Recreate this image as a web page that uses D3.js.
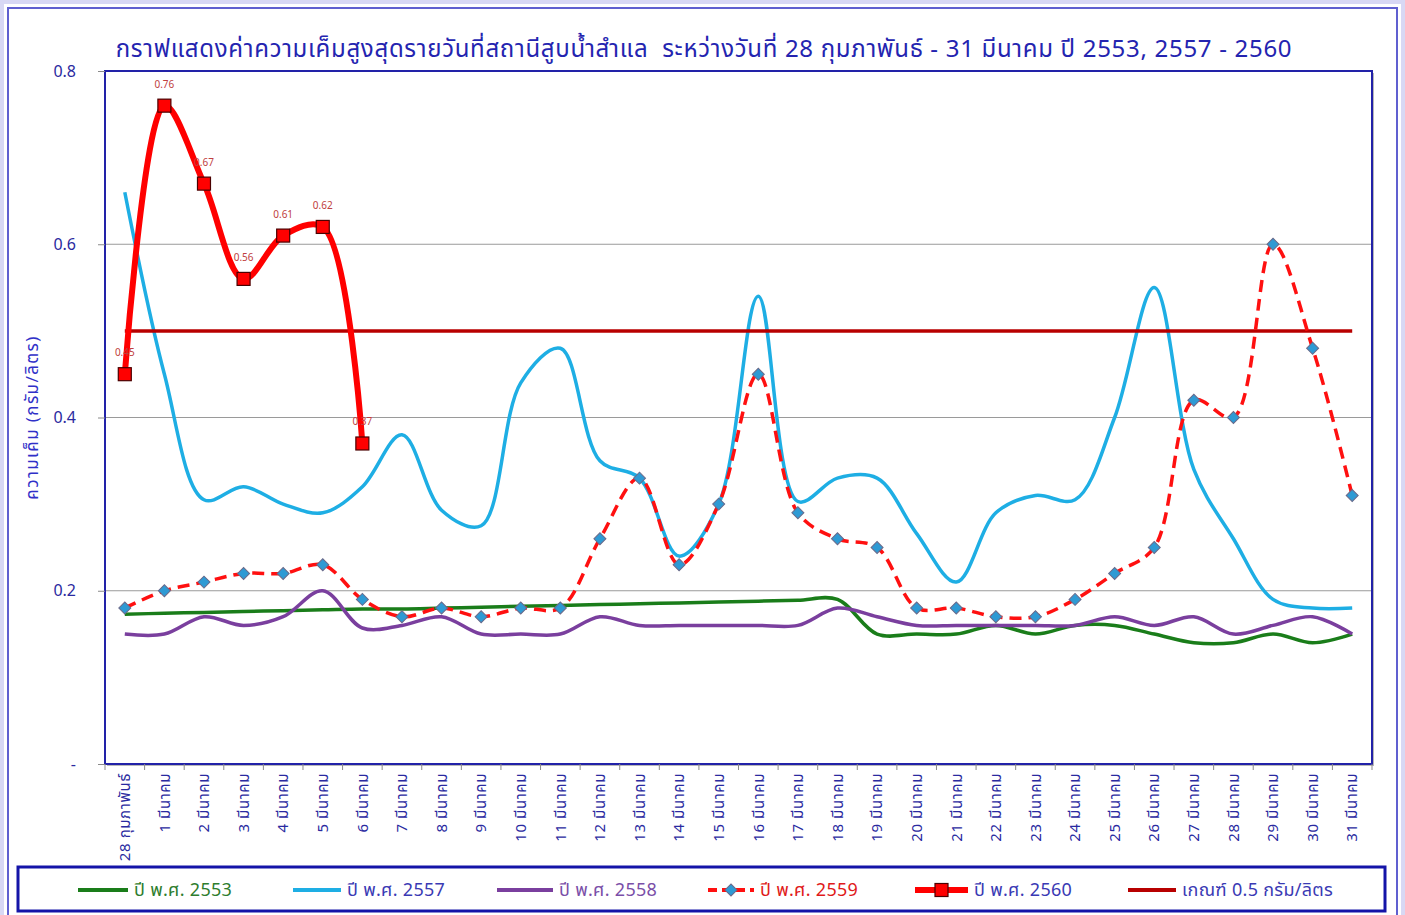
<!DOCTYPE html>
<html>
<head>
<meta charset="utf-8">
<script src="https://cdn.jsdelivr.net/npm/d3@7"></script>
<style>
  body { margin: 0; background: #fff; }
  svg text { font-family: Tahoma, "Noto Sans Thai", "Noto Sans", "DejaVu Sans", sans-serif; }
</style>
</head>
<body>
<svg id="chart" width="1405" height="915"></svg>
<script>
// Categories (x axis).
const days = [
  '28 กุมภาพันธ์', '1 มีนาคม', '2 มีนาคม', '3 มีนาคม', '4 มีนาคม', '5 มีนาคม', '6 มีนาคม', '7 มีนาคม',
  '8 มีนาคม', '9 มีนาคม', '10 มีนาคม', '11 มีนาคม', '12 มีนาคม', '13 มีนาคม', '14 มีนาคม', '15 มีนาคม',
  '16 มีนาคม', '17 มีนาคม', '18 มีนาคม', '19 มีนาคม', '20 มีนาคม', '21 มีนาคม', '22 มีนาคม', '23 มีนาคม',
  '24 มีนาคม', '25 มีนาคม', '26 มีนาคม', '27 มีนาคม', '28 มีนาคม', '29 มีนาคม', '30 มีนาคม', '31 มีนาคม'
];

// Series values (g/l).
const y2553 = [0.173, 0.174, 0.175, 0.176, 0.177, 0.178, 0.179, 0.179, 0.180, 0.181, 0.182, 0.183, 0.184, 0.185, 0.186, 0.187,
  0.188, 0.189, 0.190, 0.15, 0.15, 0.15, 0.16, 0.15, 0.16, 0.16, 0.15, 0.14, 0.14, 0.15, 0.14, 0.15];
const y2557 = [0.66, 0.45, 0.305, 0.32, 0.30, 0.29, 0.32, 0.38, 0.293, 0.275, 0.44, 0.48, 0.35, 0.33, 0.24, 0.30,
  0.54, 0.303, 0.33, 0.33, 0.266, 0.21, 0.29, 0.31, 0.305, 0.40, 0.55, 0.34, 0.26, 0.19, 0.18, 0.18];
const y2558 = [0.15, 0.15, 0.17, 0.16, 0.17, 0.20, 0.157, 0.16, 0.17, 0.15, 0.15, 0.15, 0.17, 0.16, 0.16, 0.16,
  0.16, 0.16, 0.18, 0.17, 0.16, 0.16, 0.16, 0.16, 0.16, 0.17, 0.16, 0.17, 0.15, 0.16, 0.17, 0.15];
const y2559 = [0.18, 0.20, 0.21, 0.22, 0.22, 0.23, 0.19, 0.17, 0.18, 0.17, 0.18, 0.18, 0.26, 0.33, 0.23, 0.30,
  0.45, 0.29, 0.26, 0.25, 0.18, 0.18, 0.17, 0.17, 0.19, 0.22, 0.25, 0.42, 0.40, 0.60, 0.48, 0.31];
const y2560 = [0.45, 0.76, 0.67, 0.56, 0.61, 0.62, 0.37];
const threshold = days.map(() => 0.5);

const yTicks = [0, 0.2, 0.4, 0.6, 0.8];

const title = 'กราฟแสดงค่าความเค็มสูงสุดรายวันที่สถานีสูบน้ำสำแล  ระหว่างวันที่ 28 กุมภาพันธ์ - 31 มีนาคม ปี 2553, 2557 - 2560';

const svg = d3.select('#chart');
const m = { left: 105, right: 1372, top: 71, bottom: 764 };

const x = d3.scaleBand().domain(days).range([m.left, m.right]).padding(0);
const y = d3.scaleLinear().domain([0, 0.8]).range([m.bottom, m.top]);
const cx = d => x(d) + x.bandwidth() / 2;

// Outer frame.
svg.append('rect')
  .attr('x', 2).attr('y', 2).attr('width', 1401).attr('height', 920)
  .attr('fill', 'none').attr('stroke', '#d8d8f4').attr('stroke-width', 4);
svg.append('rect')
  .attr('x', 8).attr('y', 8).attr('width', 1389).attr('height', 915)
  .attr('fill', '#fff').attr('stroke', '#6060d0').attr('stroke-width', 2);

// Title.
svg.append('text')
  .attr('x', 704).attr('y', 57)
  .attr('text-anchor', 'middle')
  .attr('fill', '#2424b0')
  .attr('font-size', 24)
  .attr('letter-spacing', 0.7)
  .style('white-space', 'pre')
  .text(title);

// Plot area shadow + background.
svg.append('rect')
  .attr('x', m.left + 2).attr('y', m.top + 2)
  .attr('width', m.right - m.left).attr('height', m.bottom - m.top)
  .attr('fill', '#b8b8b8');
svg.append('rect')
  .attr('x', m.left).attr('y', m.top)
  .attr('width', m.right - m.left).attr('height', m.bottom - m.top)
  .attr('fill', '#fff');

// Gridlines.
svg.append('g')
  .selectAll('line')
  .data(yTicks.filter(v => v > 0 && v < 0.8))
  .join('line')
  .attr('x1', m.left).attr('x2', m.right)
  .attr('y1', d => y(d)).attr('y2', d => y(d))
  .attr('stroke', '#9a9a9a').attr('stroke-width', 1);

svg.append('rect')
  .attr('x', m.left).attr('y', m.top)
  .attr('width', m.right - m.left).attr('height', m.bottom - m.top)
  .attr('fill', 'none').attr('stroke', '#2222a8').attr('stroke-width', 2);

// Y axis.
const yAxis = svg.append('g')
  .attr('transform', 'translate(' + m.left + ',0)')
  .call(d3.axisLeft(y).tickValues(yTicks).tickSize(7).tickPadding(22)
    .tickFormat(d => d === 0 ? '-' : d3.format('.1f')(d)));
yAxis.select('.domain').remove();
yAxis.selectAll('line').attr('stroke', '#8a8a8a');
yAxis.selectAll('text')
  .attr('font-size', 16)
  .attr('fill', '#2a2aa0');

svg.append('text')
  .attr('transform', 'translate(38,' + ((m.top + m.bottom) / 2 + 0) + ') rotate(-90)')
  .attr('text-anchor', 'middle')
  .attr('fill', '#3030c8')
  .attr('font-size', 17)
  .attr('letter-spacing', 1.4)
  .text('ความเค็ม (กรัม/ลิตร)');

// X axis: ticks between categories, labels rotated.
svg.append('g')
  .selectAll('line')
  .data(days.concat(['end']))
  .join('line')
  .attr('x1', (d, i) => m.left + i * x.bandwidth())
  .attr('x2', (d, i) => m.left + i * x.bandwidth())
  .attr('y1', m.bottom).attr('y2', m.bottom + 6)
  .attr('stroke', '#8a8a8a');

const xAxis = svg.append('g')
  .attr('transform', 'translate(0,' + m.bottom + ')')
  .call(d3.axisBottom(x).tickSize(0));
xAxis.select('.domain').remove();
xAxis.selectAll('text')
  .attr('transform', 'rotate(-90)')
  .attr('x', -9).attr('y', 0).attr('dy', '0.35em')
  .attr('text-anchor', 'end')
  .attr('font-size', 15)
  .attr('letter-spacing', 0.6)
  .attr('fill', '#2a2aa0');

// Lines.
const line = d3.line()
  .x((d, i) => cx(days[i]))
  .y(d => y(d))
  .curve(d3.curveCatmullRom.alpha(0.5));

const series = [
  { values: y2553, color: '#1a7d1a', width: 3.5 },
  { values: y2557, color: '#1eaee4', width: 3.5 },
  { values: y2558, color: '#7a3f9e', width: 3.5 },
  { values: threshold, color: '#b80000', width: 3.5 },
  { values: y2559, color: '#ff1010', width: 3.5, dash: '12,7' },
  { values: y2560, color: '#ff0000', width: 6 }
];

svg.append('g')
  .selectAll('path')
  .data(series)
  .join('path')
  .attr('d', d => line(d.values))
  .attr('fill', 'none')
  .attr('stroke', d => d.color)
  .attr('stroke-width', d => d.width)
  .attr('stroke-dasharray', d => d.dash || null)
  .attr('stroke-linejoin', 'round');

// 2559 diamond markers (square turned 45deg).
const diamond = d3.symbol().type(d3.symbolSquare).size(72);
svg.append('g')
  .selectAll('path')
  .data(y2559)
  .join('path')
  .attr('transform', (d, i) => 'translate(' + cx(days[i]) + ',' + y(d) + ') rotate(45)')
  .attr('d', diamond)
  .attr('fill', '#2e9ad4')
  .attr('stroke', '#6a6a8a')
  .attr('stroke-width', 1);

// 2560 square markers + labels.
svg.append('g')
  .selectAll('rect')
  .data(y2560)
  .join('rect')
  .attr('x', (d, i) => cx(days[i]) - 6.5)
  .attr('y', d => y(d) - 6.5)
  .attr('width', 13).attr('height', 13)
  .attr('fill', '#ff0000')
  .attr('stroke', '#4a0000')
  .attr('stroke-width', 1.2);

svg.append('g')
  .selectAll('text')
  .data(y2560)
  .join('text')
  .attr('x', (d, i) => cx(days[i]))
  .attr('y', d => y(d) - 18)
  .attr('text-anchor', 'middle')
  .attr('font-size', 10)
  .attr('fill', '#c04040')
  .text(d => d3.format('.2f')(d));

// Legend.
svg.append('rect')
  .attr('x', 18).attr('y', 867).attr('width', 1367).attr('height', 44)
  .attr('fill', '#fff').attr('stroke', '#1414a8').attr('stroke-width', 3);

const legendItems = [
  { label: 'ปี พ.ศ. 2553', color: '#1a7d1a', text: '#2e7d2e', x1: 78, x2: 128, width: 4 },
  { label: 'ปี พ.ศ. 2557', color: '#1eaee4', text: '#3a3ab4', x1: 293, x2: 341, width: 4 },
  { label: 'ปี พ.ศ. 2558', color: '#7a3f9e', text: '#7a4fa8', x1: 497, x2: 553, width: 4 },
  { label: 'ปี พ.ศ. 2559', color: '#ff1010', text: '#e01a1a', x1: 708, x2: 754, width: 4, dash: '9,5', marker: 'diamond' },
  { label: 'ปี พ.ศ. 2560', color: '#ff0000', text: '#3a3ab4', x1: 915, x2: 968, width: 6, marker: 'square' },
  { label: 'เกณฑ์ 0.5 กรัม/ลิตร', color: '#b80000', text: '#3a3ab4', x1: 1128, x2: 1176, width: 4 }
];
const ly = 890;
const lg = svg.append('g').selectAll('g').data(legendItems).join('g');
lg.append('line')
  .attr('x1', d => d.x1).attr('x2', d => d.x2)
  .attr('y1', ly).attr('y2', ly)
  .attr('stroke', d => d.color)
  .attr('stroke-width', d => d.width)
  .attr('stroke-dasharray', d => d.dash || null);
lg.filter(d => d.marker === 'diamond').append('path')
  .attr('transform', d => 'translate(' + (d.x1 + d.x2) / 2 + ',' + ly + ') rotate(45)')
  .attr('d', diamond)
  .attr('fill', '#2e9ad4').attr('stroke', '#6a6a8a');
lg.filter(d => d.marker === 'square').append('rect')
  .attr('x', d => (d.x1 + d.x2) / 2 - 6.5).attr('y', ly - 6.5)
  .attr('width', 13).attr('height', 13)
  .attr('fill', '#ff0000').attr('stroke', '#4a0000').attr('stroke-width', 1.2);
lg.append('text')
  .attr('x', d => d.x2 + 6)
  .attr('y', ly + 6)
  .attr('font-size', 18)
  .attr('letter-spacing', 0.3)
  .attr('fill', d => d.text)
  .text(d => d.label);
</script>
</body>
</html>
